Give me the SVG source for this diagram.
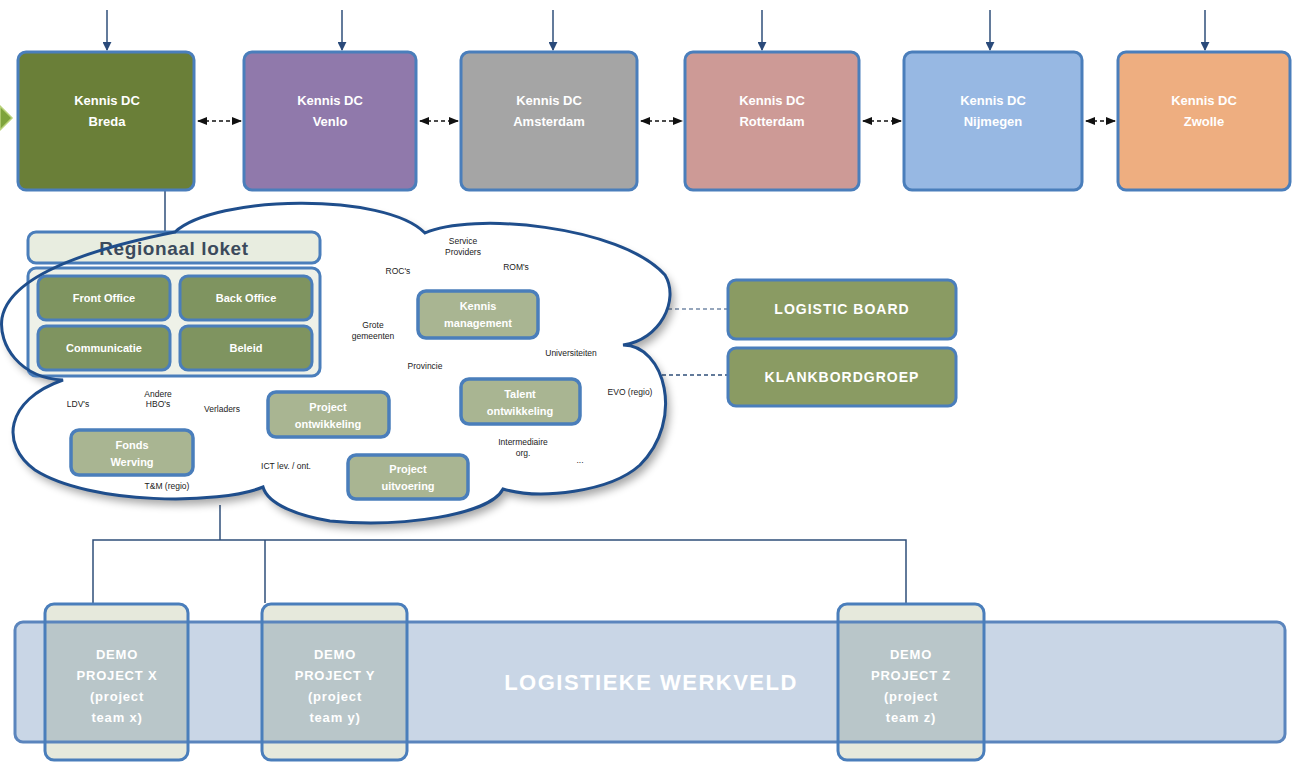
<svg xmlns="http://www.w3.org/2000/svg" width="1292" height="763" viewBox="0 0 1292 763">
<defs>
<style>
.dc{stroke:#4a7ebb;stroke-width:3}
.w{fill:#fff;font-family:"Liberation Sans",Arial,sans-serif;font-weight:bold;text-anchor:middle}
.dct{font-size:13px}
.in{fill:#7f9460;stroke:#4a7ebb;stroke-width:3}
.sg{fill:#a9b592;stroke:#4a7ebb;stroke-width:3.5}
.sm{fill:#222;font-family:"Liberation Sans",Arial,sans-serif;font-size:8.5px;text-anchor:middle}
.ib{font-size:11px}
.bd{fill:#8a9b63;stroke:#4a7ebb;stroke-width:3}
.demo{fill:#e6e9dc;stroke:none}
.ov{fill:#b9c6c9}
.dl{fill:none;stroke:#4a7ebb;stroke-width:3}
.ln{fill:none;stroke:#2f4f7a;stroke-width:1.5}
.dt{font-size:13px;letter-spacing:0.8px}
</style>
<marker id="ad" viewBox="0 0 10 10" refX="9" refY="5" markerWidth="6" markerHeight="6" orient="auto"><path d="M0,0 L10,5 L0,10 z" fill="#2a4a7a"/></marker>
<marker id="ab" viewBox="0 0 10 10" refX="9" refY="5" markerWidth="7" markerHeight="7" orient="auto-start-reverse"><path d="M0,1 L10,5 L0,9 z" fill="#111"/></marker>
<filter id="sh" x="-10%" y="-10%" width="130%" height="130%"><feGaussianBlur in="SourceAlpha" stdDeviation="4"/><feOffset dx="4" dy="6"/><feComponentTransfer><feFuncA type="linear" slope="0.35"/></feComponentTransfer><feMerge><feMergeNode/><feMergeNode in="SourceGraphic"/></feMerge></filter>
<path id="cloudp" d="M175,232 C215,195 385,192 425,233 C470,212 620,225 665,275 C680,300 660,340 623,345 C665,345 685,420 640,465 C610,492 540,500 503,489 C490,515 400,528 330,521 C300,516 268,505 263,487 C220,505 90,505 35,470 C0,445 5,400 63,380 C20,378 -2,345 2,318 C8,285 60,255 175,232 Z"/>
</defs>
<rect width="1292" height="763" fill="#fff"/>

<polygon id="leftarrow" points="0,106 12,118 0,130" fill="#7ea33c" stroke="#b9d27a" stroke-width="1.5"/>

<g id="connectors">
<line x1="107" y1="10" x2="107" y2="50" class="ln" marker-end="url(#ad)"/>
<line x1="342" y1="10" x2="342" y2="50" class="ln" marker-end="url(#ad)"/>
<line x1="553" y1="10" x2="553" y2="50" class="ln" marker-end="url(#ad)"/>
<line x1="762" y1="10" x2="762" y2="50" class="ln" marker-end="url(#ad)"/>
<line x1="990" y1="10" x2="990" y2="50" class="ln" marker-end="url(#ad)"/>
<line x1="1205" y1="10" x2="1205" y2="50" class="ln" marker-end="url(#ad)"/>
<g stroke="#111" stroke-width="1.5" stroke-dasharray="4,3" fill="none">
<line x1="198" y1="121" x2="241" y2="121" marker-start="url(#ab)" marker-end="url(#ab)"/>
<line x1="420" y1="121" x2="458" y2="121" marker-start="url(#ab)" marker-end="url(#ab)"/>
<line x1="641" y1="121" x2="682" y2="121" marker-start="url(#ab)" marker-end="url(#ab)"/>
<line x1="863" y1="121" x2="901" y2="121" marker-start="url(#ab)" marker-end="url(#ab)"/>
<line x1="1086" y1="121" x2="1115" y2="121" marker-start="url(#ab)" marker-end="url(#ab)"/>
</g>
<line x1="165" y1="190" x2="165" y2="233" class="ln"/>
<polyline points="220,505 220,540" class="ln"/>
<polyline points="93,603 93,540 906,540 906,603" class="ln"/>
<line x1="265" y1="540" x2="265" y2="603" class="ln"/>
<line x1="668" y1="309" x2="728" y2="309" stroke="#2f4f7a" stroke-width="1.2" stroke-dasharray="4,3"/>
<line x1="662" y1="375" x2="728" y2="375" stroke="#2f4f7a" stroke-width="1.5" stroke-dasharray="4,3"/>
</g>

<g id="dc-breda"><rect x="18" y="52" width="176" height="138" rx="8" fill="#6a7f38" class="dc"/><text class="w dct" x="107" y="105">Kennis DC</text><text class="w dct" x="107" y="126">Breda</text></g>
<g id="dc-venlo"><rect x="244" y="52" width="172" height="138" rx="8" fill="#9079ab" class="dc"/><text class="w dct" x="330" y="105">Kennis DC</text><text class="w dct" x="330" y="126">Venlo</text></g>
<g id="dc-amsterdam"><rect x="461" y="52" width="176" height="138" rx="8" fill="#a5a5a5" class="dc"/><text class="w dct" x="549" y="105">Kennis DC</text><text class="w dct" x="549" y="126">Amsterdam</text></g>
<g id="dc-rotterdam"><rect x="685" y="52" width="174" height="138" rx="8" fill="#cd9a96" class="dc"/><text class="w dct" x="772" y="105">Kennis DC</text><text class="w dct" x="772" y="126">Rotterdam</text></g>
<g id="dc-nijmegen"><rect x="904" y="52" width="178" height="138" rx="8" fill="#97b8e3" class="dc"/><text class="w dct" x="993" y="105">Kennis DC</text><text class="w dct" x="993" y="126">Nijmegen</text></g>
<g id="dc-zwolle"><rect x="1118" y="52" width="172" height="138" rx="8" fill="#eeae80" class="dc"/><text class="w dct" x="1204" y="105">Kennis DC</text><text class="w dct" x="1204" y="126">Zwolle</text></g>

<g id="cloud">
<use href="#cloudp" fill="#fff" filter="url(#sh)"/>
</g>

<g id="regionaal-loket">
<rect x="28" y="232" width="292" height="31" rx="8" fill="#e8ede0" stroke="#4a7ebb" stroke-width="3"/>
<text x="174" y="255" font-family="Liberation Sans,Arial,sans-serif" font-weight="bold" font-size="19" fill="#3b4a5c" text-anchor="middle" letter-spacing="0.6">Regionaal loket</text>
<rect x="28" y="268" width="292" height="108" rx="8" fill="#eef1e8" stroke="#4a7ebb" stroke-width="3"/>
</g>
<g id="front-office"><rect x="38" y="276" width="132" height="44" rx="8" class="in"/><text class="w ib" x="104" y="302">Front Office</text></g>
<g id="back-office"><rect x="180" y="276" width="132" height="44" rx="8" class="in"/><text class="w ib" x="246" y="302">Back Office</text></g>
<g id="communicatie"><rect x="38" y="326" width="132" height="44" rx="8" class="in"/><text class="w ib" x="104" y="352">Communicatie</text></g>
<g id="beleid"><rect x="180" y="326" width="132" height="44" rx="8" class="in"/><text class="w ib" x="246" y="352">Beleid</text></g>

<use id="cloud-outline" href="#cloudp" fill="none" stroke="#1f4e8c" stroke-width="3"/>

<g id="kennis-management"><rect x="418" y="291" width="120" height="47" rx="8" class="sg"/><text class="w ib" x="478" y="310">Kennis</text><text class="w ib" x="478" y="327">management</text></g>
<g id="talent-ontwikkeling"><rect x="461" y="379" width="119" height="45" rx="8" class="sg"/><text class="w ib" x="520" y="398">Talent</text><text class="w ib" x="520" y="415">ontwikkeling</text></g>
<g id="project-ontwikkeling"><rect x="268" y="392" width="121" height="45" rx="8" class="sg"/><text class="w ib" x="328" y="411">Project</text><text class="w ib" x="328" y="428">ontwikkeling</text></g>
<g id="fonds-werving"><rect x="71" y="430" width="122" height="45" rx="8" class="sg"/><text class="w ib" x="132" y="449">Fonds</text><text class="w ib" x="132" y="466">Werving</text></g>
<g id="project-uitvoering"><rect x="348" y="455" width="120" height="44" rx="8" class="sg"/><text class="w ib" x="408" y="473">Project</text><text class="w ib" x="408" y="490">uitvoering</text></g>

<g id="cloud-labels">
<text class="sm" x="463" y="244">Service</text><text class="sm" x="463" y="255">Providers</text>
<text class="sm" x="398" y="274">ROC's</text>
<text class="sm" x="516" y="270">ROM's</text>
<text class="sm" x="373" y="328">Grote</text><text class="sm" x="373" y="339">gemeenten</text>
<text class="sm" x="425" y="369">Provincie</text>
<text class="sm" x="571" y="356">Universiteiten</text>
<text class="sm" x="630" y="395">EVO (regio)</text>
<text class="sm" x="78" y="407">LDV's</text>
<text class="sm" x="158" y="397">Andere</text><text class="sm" x="158" y="407">HBO's</text>
<text class="sm" x="222" y="412">Verladers</text>
<text class="sm" x="286" y="469">ICT lev. / ont.</text>
<text class="sm" x="523" y="445">Intermediaire</text><text class="sm" x="523" y="456">org.</text>
<text class="sm" x="580" y="463">...</text>
<text class="sm" x="167" y="489">T&amp;M (regio)</text>
</g>

<g id="logistic-board"><rect x="728" y="280" width="228" height="59" rx="8" class="bd"/><text class="w" font-size="14" letter-spacing="1" x="842" y="314">LOGISTIC BOARD</text></g>
<g id="klankbordgroep"><rect x="728" y="348" width="228" height="58" rx="8" class="bd"/><text class="w" font-size="14" letter-spacing="1" x="842" y="382">KLANKBORDGROEP</text></g>

<g id="logistieke-werkveld">
<rect x="15" y="622" width="1270" height="120" rx="8" fill="#c9d6e6"/>
<text class="w" font-size="22" letter-spacing="1.5" x="651" y="690">LOGISTIEKE WERKVELD</text>
</g>

<g id="demo-x">
<rect x="45" y="604" width="143" height="156" rx="9" class="demo"/>
<rect x="45" y="622" width="143" height="120" class="ov"/>
</g>
<g id="demo-y">
<rect x="262" y="604" width="145" height="156" rx="9" class="demo"/>
<rect x="262" y="622" width="145" height="120" class="ov"/>
</g>
<g id="demo-z">
<rect x="838" y="604" width="146" height="156" rx="9" class="demo"/>
<rect x="838" y="622" width="146" height="120" class="ov"/>
</g>
<rect x="15" y="622" width="1270" height="120" rx="8" fill="none" stroke="#5b85bd" stroke-width="3"/>
<g id="demo-outlines">
<rect x="45" y="604" width="143" height="156" rx="9" class="dl"/>
<rect x="262" y="604" width="145" height="156" rx="9" class="dl"/>
<rect x="838" y="604" width="146" height="156" rx="9" class="dl"/>
</g>
<g id="demo-text">
<text class="w dt" x="117" y="659">DEMO</text>
<text class="w dt" x="117" y="680">PROJECT X</text>
<text class="w dt" x="117" y="701">(project</text>
<text class="w dt" x="117" y="722">team x)</text>
<text class="w dt" x="335" y="659">DEMO</text>
<text class="w dt" x="335" y="680">PROJECT Y</text>
<text class="w dt" x="335" y="701">(project</text>
<text class="w dt" x="335" y="722">team y)</text>
<text class="w dt" x="911" y="659">DEMO</text>
<text class="w dt" x="911" y="680">PROJECT Z</text>
<text class="w dt" x="911" y="701">(project</text>
<text class="w dt" x="911" y="722">team z)</text>
</g>
</svg>
